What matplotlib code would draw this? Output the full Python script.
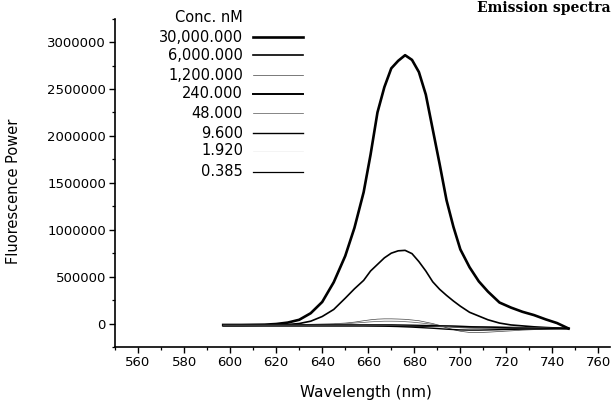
import numpy as np
import matplotlib.pyplot as plt
from matplotlib.lines import Line2D

plt.rcParams['font.family'] = ['DejaVu Sans']

# wavelength grid (nm)
wl = [597, 605, 615, 620, 625, 630, 635, 640, 645, 650, 654, 658, 661, 664, 667,
      670, 673, 676, 679, 682, 685, 688, 691, 694, 697, 700, 704, 708, 712, 717,
      722, 727, 732, 737, 742, 747]

# fluorescence power, in thousands
c30000 = [-15, -15, -12, -5, 10, 40, 110, 230, 440, 720, 1020, 1400, 1800, 2250, 2520,
          2720, 2800, 2860, 2810, 2680, 2440, 2070, 1700, 1314, 1030, 790, 600, 450, 340, 224,
          170, 125, 90, 45, 5, -53]
c6000 = [-15, -15, -15, -13, -10, 0, 25, 75, 150, 270, 370, 460, 560, 630, 700,
         750, 775, 780, 745, 660, 560, 445, 365, 300, 240, 185, 120, 80, 40, 5,
         -15, -25, -35, -42, -48, -53]
c1200 = [-10, -10, -10, -10, -10, -10, -8, -5, -2, 5, 15, 30, 40, 47, 50,
         50, 48, 45, 38, 30, 15, 0, -20, -45, -65, -82, -95, -96, -92, -85,
         -78, -70, -65, -60, -56, -53]
c240 = [-20, -20, -20, -20, -20, -20, -20, -20, -20, -20, -20, -20, -20, -20, -20,
        -20, -22, -23, -24, -25, -26, -27, -28, -30, -32, -34, -36, -38, -40, -42,
        -44, -46, -48, -50, -52, -53]
c48 = [-12, -12, -12, -12, -12, -12, -12, -10, -8, -3, 5, 12, 18, 22, 25,
       25, 24, 20, 15, 8, 0, -10, -20, -30, -38, -45, -50, -52, -53, -53,
       -53, -53, -53, -53, -53, -53]
c9_6 = [-25, -25, -25, -25, -25, -25, -25, -25, -25, -25, -25, -25, -26, -27, -28,
        -30, -32, -35, -38, -42, -46, -50, -55, -60, -64, -68, -70, -70, -68, -65,
        -62, -60, -58, -56, -54, -53]
c1_92 = [-18, -18, -18, -18, -18, -18, -18, -18, -18, -18, -18, -18, -18, -18, -18,
         -18, -19, -20, -21, -22, -23, -25, -27, -29, -31, -33, -35, -37, -39, -41,
         -43, -45, -47, -49, -51, -53]
c0_385 = [-15, -15, -15, -15, -15, -15, -15, -15, -15, -15, -15, -15, -15, -15, -15,
          -15, -16, -17, -18, -19, -20, -22, -24, -26, -28, -30, -33, -36, -39, -42,
          -45, -47, -49, -51, -52, -53]

labels = ['30,000.000', '6,000.000', '1,200.000', '240.000', '48.000', '9.600', '1.920', '0.385']
series = [c30000, c6000, c1200, c240, c48, c9_6, c1_92, c0_385]
widths = [1.9, 1.2, 0.5, 1.4, 0.5, 1.0, 0.5, 0.9]
colors = ['black', 'black', '#444444', 'black', '#555555', 'black', '#f0f0f0', 'black']

fig = plt.figure(figsize=(6.14, 4.0), dpi=100)
ax = fig.add_axes([115/614, 53/400, 495/614, 328.4/400])

for ys, lw, c in zip(series, widths, colors):
    ax.plot(wl, np.array(ys) * 1000, color=c, lw=lw)

ax.set_xlim(550, 765)
ax.set_ylim(-250000, 3250000)
ax.set_xticks(range(560, 761, 20))
ax.set_xticks(range(550, 766, 10), minor=True)
ax.set_yticks(range(0, 3000001, 500000))
ax.set_yticklabels([str(v) for v in range(0, 3000001, 500000)])
ax.set_yticks(range(-250000, 3250001, 250000), minor=True)
ax.spines['top'].set_visible(False)
ax.spines['right'].set_visible(False)
for s in ['left', 'bottom']:
    ax.spines[s].set_linewidth(1.2)
ax.tick_params(which='major', direction='out', length=4.5, width=1.0, labelsize=9.5, pad=2)
ax.tick_params(which='minor', direction='out', length=2.5, width=0.9)

ax.set_xlabel('Wavelength (nm)', fontsize=11)
ax.xaxis.set_label_coords(0.507, -0.115)
ax.set_ylabel('Fluorescence Power', fontsize=10.5)
ax.yaxis.set_label_coords(-0.19, 0.473)

# legend drawn by hand: labels right-aligned, line sample to the right
fig.text(243/614, 1 - 17/400, 'Conc. nM', ha='right', va='center', fontsize=10.5)
ypos = [37, 55, 75, 94, 113, 133, 151, 172]
for lab, y, lw, c in zip(labels, ypos, widths, colors):
    fig.text(243/614, 1 - y/400, lab, ha='right', va='center', fontsize=10.5)
    fig.add_artist(Line2D([253/614, 303/614], [1 - y/400, 1 - y/400], color=c, lw=lw))

# caption at the top edge of the scan
fig.text(0.995, 0.998, 'Emission spectra', ha='right', va='top', fontsize=10,
         family='DejaVu Serif', weight='bold')

fig.savefig('out.png', dpi=100)
